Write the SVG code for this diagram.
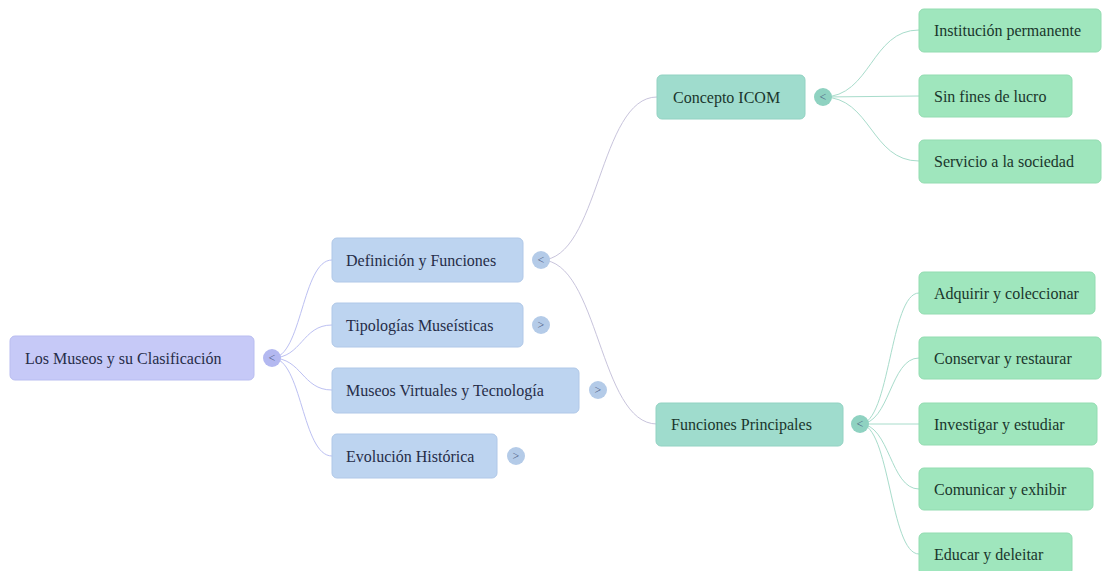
<svg xmlns="http://www.w3.org/2000/svg" width="1103" height="571" viewBox="0 0 1103 571">
<style>
text{font-family:"Liberation Serif","Times New Roman",serif;font-size:16px;dominant-baseline:central}
.root rect{fill:#c6c9f7;stroke:#b9bdf0;stroke-width:1}
.l1 rect{fill:#bdd4f0;stroke:#b0c8e8;stroke-width:1}
.l2 rect{fill:#9fdccd;stroke:#92d2c2;stroke-width:1}
.lf rect{fill:#9fe6bd;stroke:#93dcb1;stroke-width:1}
.root text,.l1 text{fill:#262d48}
.l2 text,.lf text{fill:#1a362c}
.tg circle{stroke:none}
.tg text{font-size:12px;text-anchor:middle;fill:#4a5a80}
.c0{fill:none;stroke:#bcc0f2;stroke-width:1}
.c1{fill:none;stroke:#c8c4dc;stroke-width:1}
.c2{fill:none;stroke:#a8dccb;stroke-width:1}
</style>
<g id="connectors">
<path class="c0" d="M272 358 C302 358 302 260 332 260"/>
<path class="c0" d="M272 358 C302 358 302 325 332 325"/>
<path class="c0" d="M272 358 C302 358 302 390 332 390"/>
<path class="c0" d="M272 358 C302 358 302 456 332 456"/>
<path class="c1" d="M541 260 C599 260 599 97 657 97"/>
<path class="c1" d="M541 260 C599 260 599 424 657 424"/>
<path class="c2" d="M823 97 C871 97 871 30 919 30"/>
<path class="c2" d="M823 97 L919 96"/>
<path class="c2" d="M823 97 C871 97 871 161 919 161"/>
<path class="c2" d="M860 424 C890 424 890 293 919 293"/>
<path class="c2" d="M860 424 C890 424 890 358 919 358"/>
<path class="c2" d="M860 424 L919 424"/>
<path class="c2" d="M860 424 C890 424 890 489 919 489"/>
<path class="c2" d="M860 424 C890 424 890 554 919 554"/>
</g>
<g id="root" class="root"><rect x="10" y="336" width="244" height="44" rx="5"/><text x="25" y="358">Los Museos y su Clasificación</text></g>
<g id="root-toggle" class="tg"><circle cx="272" cy="358" r="9" fill="#b3b8f0"/><text x="272" y="358">&lt;</text></g>
<g id="def" class="l1"><rect x="332" y="238" width="191" height="44" rx="5"/><text x="346" y="260">Definición y Funciones</text></g>
<g id="def-toggle" class="tg"><circle cx="541" cy="260" r="9" fill="#b4cbe8"/><text x="541" y="260">&lt;</text></g>
<g id="tip" class="l1"><rect x="332" y="303" width="191" height="44" rx="5"/><text x="346" y="325">Tipologías Museísticas</text></g>
<g id="tip-toggle" class="tg"><circle cx="541" cy="325" r="9" fill="#b4cbe8"/><text x="541" y="325">&gt;</text></g>
<g id="vir" class="l1"><rect x="332" y="368" width="247" height="45" rx="5"/><text x="346" y="390">Museos Virtuales y Tecnología</text></g>
<g id="vir-toggle" class="tg"><circle cx="598" cy="390" r="9" fill="#b4cbe8"/><text x="598" y="390">&gt;</text></g>
<g id="evo" class="l1"><rect x="332" y="434" width="165" height="44" rx="5"/><text x="346" y="456">Evolución Histórica</text></g>
<g id="evo-toggle" class="tg"><circle cx="516" cy="456" r="9" fill="#b4cbe8"/><text x="516" y="456">&gt;</text></g>
<g id="icom" class="l2"><rect x="657" y="75" width="148" height="44" rx="5"/><text x="673" y="97">Concepto ICOM</text></g>
<g id="icom-toggle" class="tg"><circle cx="823" cy="97" r="9" fill="#8fd2c1"/><text x="823" y="97" fill="#2f5a50">&lt;</text></g>
<g id="fun" class="l2"><rect x="656" y="403" width="187" height="43" rx="5"/><text x="671" y="424">Funciones Principales</text></g>
<g id="fun-toggle" class="tg"><circle cx="860" cy="424" r="9" fill="#8fd2c1"/><text x="860" y="424" fill="#2f5a50">&lt;</text></g>
<g id="inst" class="lf"><rect x="919" y="9" width="182" height="43" rx="5"/><text x="934" y="30">Institución permanente</text></g>
<g id="sin" class="lf"><rect x="919" y="75" width="153" height="42" rx="5"/><text x="934" y="96">Sin fines de lucro</text></g>
<g id="serv" class="lf"><rect x="919" y="140" width="182" height="43" rx="5"/><text x="934" y="161">Servicio a la sociedad</text></g>
<g id="adq" class="lf"><rect x="919" y="272" width="176" height="42" rx="5"/><text x="934" y="293">Adquirir y coleccionar</text></g>
<g id="cons" class="lf"><rect x="919" y="337" width="182" height="42" rx="5"/><text x="934" y="358">Conservar y restaurar</text></g>
<g id="inv" class="lf"><rect x="919" y="403" width="178" height="42" rx="5"/><text x="934" y="424">Investigar y estudiar</text></g>
<g id="com" class="lf"><rect x="919" y="468" width="174" height="42" rx="5"/><text x="934" y="489">Comunicar y exhibir</text></g>
<g id="edu" class="lf"><rect x="919" y="533" width="153" height="42" rx="5"/><text x="934" y="554">Educar y deleitar</text></g>
</svg>
